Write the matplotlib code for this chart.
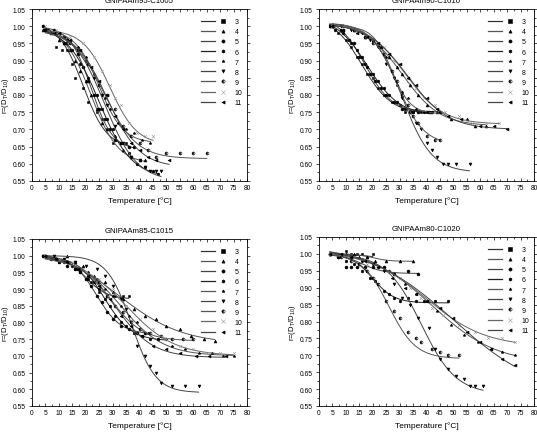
import numpy as np
import matplotlib
matplotlib.use('Agg')
from matplotlib import pyplot as plt
from matplotlib.legend_handler import HandlerTuple
from matplotlib.lines import Line2D
from matplotlib.ticker import MultipleLocator

plt.rcParams['font.family'] = ['Liberation Sans', 'DejaVu Sans']
plt.rcParams['mathtext.default'] = 'regular'

series = ['3', '4', '5', '6', '7', '8', '9', '10', '11']
titles = ['GNIPAAm95-C1005', 'GNIPAAm90-C1010', 'GNIPAAm85-C1015', 'GNIPAAm80-C1020']

# ---- GNIPAAm95-C1005 ----
t_95 = [
    [4, 6, 9, 11, 13, 15, 16, 19, 21, 24, 26, 28, 30, 33, 35],
    [4, 7, 10, 12, 14, 16, 18, 20, 22, 24, 26, 28, 31, 34, 37, 40, 42],
    [4, 8, 12, 14, 17, 19, 21, 23, 25, 27, 29, 31, 33, 36, 38],
    [4, 8, 12, 15, 18, 21, 24, 26, 28, 30, 33, 36, 39, 42, 45, 47],
    [5, 9, 13, 17, 20, 23, 25, 27, 29, 32, 35, 38, 41, 44],
    [5, 9, 13, 17, 20, 23, 26, 28, 31, 34, 37, 40, 42, 44, 46, 48],
    [5, 9, 13, 17, 21, 25, 28, 31, 34, 37, 40, 43, 46, 50, 55, 60, 65],
    [5, 9, 14, 19, 23, 26, 29, 31, 33, 36, 39, 42, 45],
    [5, 10, 14, 18, 22, 25, 28, 31, 34, 37, 40, 43, 46, 51],
]
r_95 = [
    [1.00, 0.99, 0.94, 0.93, 0.93, 0.89, 0.85, 0.82, 0.78, 0.75, 0.73, 0.70, 0.66, 0.66, 0.66],
    [0.99, 0.98, 0.96, 0.95, 0.93, 0.90, 0.87, 0.84, 0.80, 0.76, 0.72, 0.70, 0.68, 0.64, 0.62, 0.61, 0.61],
    [1.00, 0.99, 0.97, 0.95, 0.92, 0.88, 0.84, 0.80, 0.76, 0.73, 0.70, 0.67, 0.66, 0.65, 0.65],
    [1.00, 0.98, 0.95, 0.93, 0.89, 0.85, 0.80, 0.76, 0.73, 0.70, 0.66, 0.63, 0.60, 0.59, 0.58, 0.57],
    [0.99, 0.98, 0.96, 0.94, 0.91, 0.86, 0.83, 0.79, 0.76, 0.72, 0.70, 0.69, 0.67, 0.66],
    [0.99, 0.98, 0.96, 0.93, 0.90, 0.85, 0.80, 0.77, 0.71, 0.66, 0.62, 0.61, 0.59, 0.58, 0.58, 0.58],
    [0.99, 0.98, 0.95, 0.93, 0.89, 0.83, 0.80, 0.76, 0.71, 0.68, 0.66, 0.64, 0.62, 0.63, 0.63, 0.63, 0.63],
    [1.00, 0.99, 0.97, 0.95, 0.91, 0.87, 0.83, 0.79, 0.77, 0.72, 0.69, 0.68, 0.68],
    [0.99, 0.98, 0.96, 0.93, 0.88, 0.84, 0.80, 0.74, 0.70, 0.66, 0.64, 0.62, 0.61, 0.61],
]
# Boltzmann fit: A1, A2, x0, dx, last T
fit_95 = [
    (1.01, 0.645, 19, 4.5, 36),
    (1.00, 0.60, 22, 5, 42),
    (1.00, 0.64, 22, 4, 38),
    (1.00, 0.56, 25, 6, 47),
    (0.99, 0.66, 25, 4.5, 44),
    (1.00, 0.55, 27, 6, 48),
    (0.99, 0.615, 27, 6, 65),
    (0.99, 0.655, 29, 5, 45),
    (0.99, 0.59, 28, 6, 51),
]

# ---- GNIPAAm90-C1010 ----
t_90 = [
    [4, 7, 10, 12, 14, 16, 18, 20, 22, 24, 27, 30, 32, 35, 38],
    [4, 8, 13, 17, 20, 23, 26, 29, 31, 34, 37, 40, 44, 49, 55, 58, 62],
    [5, 8, 11, 13, 15, 17, 19, 21, 23, 25, 28, 31, 34, 37, 41, 45],
    [4, 6, 9, 12, 14, 16, 18, 20, 22, 24, 26, 29, 32, 35, 39, 42],
    [5, 9, 13, 17, 20, 23, 25, 27, 29, 31, 33, 36, 40, 45],
    [4, 8, 12, 16, 19, 22, 25, 28, 31, 34, 36, 38, 40, 42, 44, 46, 48, 51, 56],
    [5, 9, 13, 17, 20, 24, 27, 29, 31, 33, 35, 37, 40, 43, 45],
    [5, 9, 14, 19, 24, 28, 30, 33, 36, 39, 43, 47, 52, 57, 62, 67],
    [5, 9, 14, 18, 22, 26, 30, 33, 36, 40, 44, 48, 53, 60, 65, 70],
]
r_90 = [
    [1.00, 0.98, 0.96, 0.94, 0.91, 0.89, 0.86, 0.85, 0.82, 0.80, 0.78, 0.77, 0.75, 0.75, 0.75],
    [1.00, 0.99, 0.99, 0.97, 0.96, 0.94, 0.91, 0.88, 0.86, 0.83, 0.80, 0.77, 0.75, 0.73, 0.73, 0.71, 0.71],
    [1.00, 0.99, 0.96, 0.95, 0.91, 0.89, 0.86, 0.84, 0.82, 0.80, 0.78, 0.76, 0.75, 0.75, 0.75, 0.75],
    [1.00, 0.99, 0.98, 0.95, 0.93, 0.91, 0.88, 0.86, 0.84, 0.82, 0.80, 0.78, 0.76, 0.75, 0.75, 0.75],
    [1.00, 0.99, 0.99, 0.97, 0.96, 0.94, 0.91, 0.87, 0.83, 0.81, 0.79, 0.76, 0.75, 0.75],
    [1.00, 1.00, 0.99, 0.98, 0.96, 0.94, 0.89, 0.85, 0.79, 0.75, 0.72, 0.70, 0.66, 0.64, 0.62, 0.60, 0.60, 0.60, 0.60],
    [1.00, 1.00, 0.99, 0.97, 0.95, 0.92, 0.87, 0.84, 0.80, 0.77, 0.74, 0.72, 0.68, 0.67, 0.67],
    [1.00, 1.00, 0.98, 0.97, 0.94, 0.90, 0.89, 0.85, 0.82, 0.79, 0.77, 0.75, 0.74, 0.72, 0.72, 0.72],
    [1.00, 0.99, 0.98, 0.97, 0.95, 0.92, 0.89, 0.85, 0.83, 0.79, 0.76, 0.74, 0.73, 0.71, 0.71, 0.70],
]
fit_90 = [
    (1.03, 0.745, 16, 5.5, 38),
    (1.01, 0.71, 31, 7, 62),
    (1.03, 0.75, 17, 5, 45),
    (1.03, 0.74, 18, 6, 42),
    (1.00, 0.745, 27, 3.5, 45),
    (1.01, 0.575, 31, 5.5, 56),
    (1.01, 0.655, 29, 5, 45),
    (1.01, 0.715, 32, 7, 67),
    (1.01, 0.70, 33, 7.5, 70),
]

# ---- GNIPAAm85-C1015 ----
t_85 = [
    [4, 7, 10, 13, 16, 18, 20, 22, 25, 28, 31, 34, 36],
    [5, 9, 13, 16, 19, 23, 27, 30, 34, 38, 42, 46, 50, 55, 59, 64, 68],
    [4, 7, 10, 13, 16, 18, 20, 22, 24, 26, 28, 30, 33, 36, 39, 42],
    [4, 8, 12, 15, 18, 21, 23, 25, 27, 29, 31, 33, 35, 38, 41, 44, 47, 50],
    [5, 9, 13, 17, 21, 24, 27, 30, 33, 36, 39, 43, 47, 52, 57, 62, 67, 71, 75],
    [4, 8, 12, 16, 20, 24, 27, 30, 33, 35, 37, 39, 42, 44, 46, 48, 52, 57, 62],
    [5, 9, 13, 17, 21, 25, 28, 31, 34, 37, 40, 44, 48, 52, 56, 60],
    [5, 10, 15, 20, 25, 30, 35, 40, 45, 50, 55, 60, 65, 70, 75],
    [5, 9, 13, 17, 21, 25, 29, 33, 37, 41, 45, 50, 55, 61, 66, 72],
]
r_85 = [
    [1.00, 0.99, 0.98, 0.98, 0.96, 0.95, 0.93, 0.92, 0.89, 0.88, 0.88, 0.88, 0.88],
    [1.00, 0.99, 1.00, 0.98, 0.97, 0.94, 0.92, 0.89, 0.87, 0.84, 0.82, 0.81, 0.79, 0.78, 0.76, 0.75, 0.745],
    [1.00, 0.99, 0.98, 0.97, 0.96, 0.95, 0.93, 0.91, 0.88, 0.86, 0.83, 0.81, 0.79, 0.78, 0.77, 0.77],
    [1.00, 0.99, 0.98, 0.97, 0.96, 0.93, 0.92, 0.90, 0.87, 0.85, 0.82, 0.80, 0.79, 0.77, 0.76, 0.75, 0.75, 0.75],
    [1.00, 0.99, 0.98, 0.96, 0.95, 0.93, 0.90, 0.88, 0.85, 0.82, 0.80, 0.77, 0.75, 0.73, 0.72, 0.71, 0.71, 0.70, 0.70],
    [1.00, 1.00, 0.99, 0.98, 0.97, 0.96, 0.94, 0.91, 0.87, 0.84, 0.80, 0.73, 0.70, 0.67, 0.65, 0.62, 0.61, 0.61, 0.61],
    [1.00, 0.99, 0.98, 0.96, 0.94, 0.92, 0.88, 0.85, 0.83, 0.80, 0.78, 0.77, 0.76, 0.75, 0.75, 0.75],
    [1.00, 0.99, 0.98, 0.95, 0.93, 0.90, 0.85, 0.81, 0.78, 0.75, 0.73, 0.72, 0.71, 0.71, 0.71],
    [1.00, 0.99, 0.98, 0.96, 0.94, 0.91, 0.87, 0.82, 0.79, 0.76, 0.73, 0.72, 0.71, 0.70, 0.70, 0.70],
]
fit_85 = [
    (1.00, 0.87, 20, 4, 36),
    (1.03, 0.735, 32, 12, 68),
    (1.00, 0.765, 24, 4.5, 42),
    (1.00, 0.745, 27, 5, 50),
    (1.00, 0.70, 33, 8, 75),
    (1.00, 0.59, 37, 4.5, 62),
    (1.00, 0.745, 29, 6, 60),
    (1.00, 0.70, 35, 9, 75),
    (1.00, 0.695, 31, 7, 72),
]

# ---- GNIPAAm80-C1020 ----
t_80 = [
    [4, 6, 8, 10, 12, 14, 16, 18, 20],
    [4, 7, 10, 13, 15, 18, 21, 25, 30, 35],
    [4, 7, 10, 12, 14, 17, 20, 22, 24, 26, 28, 33, 37],
    [4, 7, 10, 13, 16, 19, 21, 24, 26, 28, 30, 33, 36, 39, 43, 48],
    [4, 8, 12, 16, 20, 24, 28, 32, 36, 40, 44, 49, 54, 59, 64, 68, 73],
    [4, 8, 12, 16, 20, 24, 28, 31, 34, 37, 41, 43, 45, 48, 51, 54, 56, 58, 61],
    [4, 8, 12, 15, 18, 20, 22, 25, 28, 30, 33, 36, 38, 42, 45, 48, 52],
    [4, 8, 13, 18, 22, 26, 30, 34, 38, 42, 46, 52, 58, 63, 68, 73],
    [4, 8, 12, 17, 22, 27, 32, 36, 40, 45, 50, 55, 60, 64, 68, 73],
]
r_80 = [
    [1.00, 1.00, 1.00, 1.01, 1.00, 1.00, 1.00, 0.99, 1.00],
    [1.00, 1.00, 1.00, 1.00, 0.99, 0.99, 0.98, 0.98, 0.98, 0.98],
    [1.00, 0.99, 0.96, 0.96, 0.96, 0.96, 0.96, 0.96, 0.96, 0.95, 0.94, 0.95, 0.94],
    [1.00, 0.99, 0.98, 0.97, 0.95, 0.93, 0.92, 0.89, 0.88, 0.87, 0.86, 0.87, 0.86, 0.86, 0.86, 0.86],
    [1.00, 1.00, 0.99, 0.98, 0.97, 0.96, 0.94, 0.91, 0.88, 0.86, 0.83, 0.79, 0.76, 0.74, 0.72, 0.71, 0.70],
    [1.00, 0.99, 0.99, 0.98, 0.97, 0.95, 0.91, 0.87, 0.85, 0.81, 0.78, 0.72, 0.69, 0.66, 0.64, 0.63, 0.61, 0.61, 0.61],
    [1.00, 0.99, 0.98, 0.97, 0.95, 0.93, 0.91, 0.86, 0.83, 0.81, 0.77, 0.75, 0.74, 0.72, 0.71, 0.70, 0.70],
    [1.00, 1.00, 0.99, 0.97, 0.96, 0.95, 0.93, 0.90, 0.87, 0.84, 0.82, 0.79, 0.77, 0.75, 0.75, 0.74],
    [1.00, 1.00, 0.99, 0.98, 0.96, 0.93, 0.90, 0.88, 0.86, 0.84, 0.81, 0.77, 0.74, 0.72, 0.69, 0.67],
]
fit_80 = [
    (1.00, 0.99, 16, 3, 20),
    (1.00, 0.978, 20, 3, 35),
    (1.00, 0.942, 16, 4, 37),
    (1.00, 0.855, 20, 4, 48),
    (1.02, 0.675, 42, 12, 73),
    (1.00, 0.585, 38, 6.5, 61),
    (1.00, 0.69, 26, 5, 52),
    (1.01, 0.725, 40, 11, 73),
    (1.03, 0.58, 50, 16, 73),
]

markers = ['s', '^', 'o', 'h', '*', 'v', 'o', 'x', '<']
fills = ['full', 'full', 'full', 'full', 'full', 'full', 'left', 'full', 'full']
mcolors = ['k', 'k', 'k', 'k', 'k', 'k', 'k', '#9a9a9a', 'k']
lcolors = ['#333333', '#555555', '#444444', '#222222', '#555555',
           '#444444', '#555555', '#666666', '#444444']


def boltzmann(x, a1, a2, x0, dx):
    return a2 + (a1 - a2) / (1 + np.exp((x - x0) / dx))


def draw_panel(ax, t_all, r_all, fits):
    handles = []
    for i in range(len(series)):
        a1, a2, x0, dx, xend = fits[i]
        xf = np.linspace(t_all[i][0], xend, 200)
        ax.plot(xf, boltzmann(xf, a1, a2, x0, dx), color=lcolors[i], lw=0.7)
        ax.plot(t_all[i], r_all[i], linestyle='none', marker=markers[i],
                color=mcolors[i], markersize=2.1, fillstyle=fills[i],
                markerfacecoloralt='white', markeredgewidth=0.4)
        ln = Line2D([], [], color=lcolors[i], lw=0.9)
        mk = Line2D([], [], linestyle='none', marker=markers[i], color=mcolors[i],
                    markersize=2.3, fillstyle=fills[i], markerfacecoloralt='white',
                    markeredgewidth=0.4)
        handles.append((ln, mk))
    ax.legend(handles, series, handler_map={tuple: HandlerTuple(ndivide=None, pad=0.3)},
              loc='upper right', bbox_to_anchor=(1.0, 0.975), frameon=False,
              fontsize=5, handlelength=4.2, handletextpad=0.6, labelspacing=0.45,
              borderaxespad=0.3)
    ax.set_xlim(0, 80)
    ax.set_ylim(0.55, 1.05)
    ax.xaxis.set_major_locator(MultipleLocator(5))
    ax.xaxis.set_minor_locator(MultipleLocator(2.5))
    ax.yaxis.set_major_locator(MultipleLocator(0.05))
    ax.yaxis.set_minor_locator(MultipleLocator(0.025))
    ax.yaxis.set_major_formatter(lambda v, p: '%.2f' % v)
    ax.tick_params(which='both', direction='in', top=True, right=True,
                   labelsize=4.8, width=0.5, pad=2)
    ax.tick_params(axis='y', which='both', direction='out')
    ax.tick_params(which='major', length=2.5)
    ax.tick_params(which='minor', length=1.3)
    for s in ax.spines.values():
        s.set_linewidth(0.6)
    ax.set_xlabel('Temperature [°C]', fontsize=6, labelpad=4)
    ax.set_ylabel('r=(D$_T$/D$_{10}$)', fontsize=5.5)
    ax.yaxis.set_label_coords(-0.098, 0.5)


fig = plt.figure(figsize=(5.37, 4.35), dpi=100)
W, H = 537.0, 435.0
boxes = [(32, 10, 215, 172), (319, 10, 215, 172), (32, 240, 215, 167), (319, 238, 215, 169)]
data = [(t_95, r_95, fit_95), (t_90, r_90, fit_90), (t_85, r_85, fit_85), (t_80, r_80, fit_80)]

for k in range(4):
    x, y, w, h = boxes[k]
    ax = fig.add_axes([x / W, 1 - (y + h) / H, w / W, h / H])
    draw_panel(ax, *data[k])
    cx = (x + w / 2) / W
    if k < 2:
        # titles of the upper row are cut by the top edge in the reference
        fig.text(cx, 1 - 3 / H, titles[k], ha='center', va='baseline', fontsize=5.6)
    else:
        fig.text(cx, 1 - (y - 7) / H, titles[k], ha='center', va='baseline', fontsize=5.6)

fig.savefig('out.png', dpi=100)
